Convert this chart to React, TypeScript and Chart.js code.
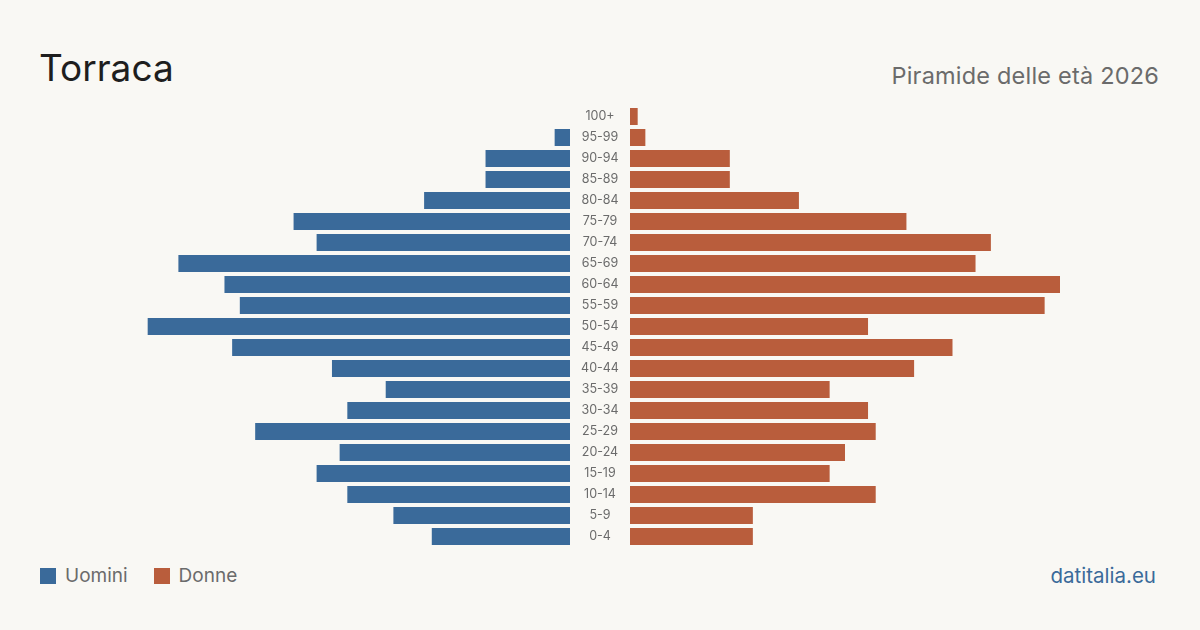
import React, { useEffect, useRef } from "react";
import { Chart, registerables } from "chart.js";

Chart.register(...registerables);

// Age groups, listed from the oldest (top row) down to the youngest
const ageGroups = [
  "100+", "95-99", "90-94", "85-89", "80-84", "75-79", "70-74", "65-69",
  "60-64", "55-59", "50-54", "45-49", "40-44", "35-39", "30-34", "25-29",
  "20-24", "15-19", "10-14", "5-9", "0-4",
];

// Residents per age group
const men = [0, 2, 11, 11, 19, 36, 33, 51, 45, 43, 55, 44, 31, 24, 29, 41, 30, 33, 29, 23, 18];
const women = [1, 2, 13, 13, 22, 36, 47, 45, 56, 54, 31, 42, 37, 26, 31, 32, 28, 26, 32, 16, 16];

const axisMax = Math.max(...men, ...women);

const BG = "#f9f8f4";
const BLUE = "#3a6a9a";
const ORANGE = "#b95d3c";
const GRAY = "#6b6b6b";
const FONT = "Inter, 'Noto Sans', sans-serif";

const CHART_TOP = 106;
const CHART_HEIGHT = 441;
const SIDE_WIDTH = 430;
const LABEL_GAP = 60;

// Age labels drawn in the gap between the two halves, aligned to the category scale
const centerLabels = {
  id: "centerLabels",
  afterDraw(chart: Chart) {
    const { ctx, chartArea, scales } = chart;
    const y = scales.y;
    ctx.save();
    ctx.font = `12.5px ${FONT}`;
    ctx.fillStyle = GRAY;
    ctx.textAlign = "center";
    ctx.textBaseline = "middle";
    ageGroups.forEach((label, i) => {
      ctx.fillText(label, chartArea.left - LABEL_GAP / 2, y.getPixelForValue(i));
    });
    ctx.restore();
  },
};

function makeOptions(reverse: boolean, leftPad: number) {
  return {
    responsive: false,
    animation: false as const,
    devicePixelRatio: 1,
    layout: { padding: { left: leftPad, right: 0, top: 0, bottom: 0 } },
    indexAxis: "y" as const,
    plugins: { legend: { display: false }, tooltip: { enabled: false } },
    scales: {
      x: { display: false, min: 0, max: axisMax, reverse },
      y: { display: false },
    },
  };
}

function Half({ values, color, reverse, withLabels }: { values: number[]; color: string; reverse: boolean; withLabels: boolean }) {
  const ref = useRef<HTMLCanvasElement | null>(null);
  useEffect(() => {
    if (!ref.current) return;
    const chart = new Chart(ref.current, {
      type: "bar",
      data: {
        labels: ageGroups,
        datasets: [
          {
            data: values,
            backgroundColor: color,
            borderWidth: 0,
            inflateAmount: 0,
            barThickness: 17,
          },
        ],
      },
      options: makeOptions(reverse, withLabels ? LABEL_GAP : 0),
      plugins: withLabels ? [centerLabels] : [],
    });
    return () => chart.destroy();
  }, []);
  const width = SIDE_WIDTH + (withLabels ? LABEL_GAP : 0);
  return <canvas ref={ref} width={width} height={CHART_HEIGHT} style={{ width, height: CHART_HEIGHT, display: "block" }} />;
}

export default function App() {
  return (
    <div
      style={{
        position: "fixed",
        left: 0,
        top: 0,
        width: 1200,
        height: 630,
        background: BG,
        fontFamily: FONT,
        overflow: "hidden",
      }}
    >
      <div style={{ position: "absolute", left: 39, top: 44, fontSize: 37, color: "#1e1e1e", lineHeight: "48px" }}>
        Torraca
      </div>
      <div style={{ position: "absolute", right: 41, top: 60, fontSize: 23.5, color: GRAY, lineHeight: "32px", letterSpacing: 0.2 }}>
        Piramide delle età 2026
      </div>

      <div style={{ position: "absolute", left: 600 - LABEL_GAP / 2 - SIDE_WIDTH, top: CHART_TOP }}>
        <Half values={men} color={BLUE} reverse={true} withLabels={false} />
      </div>
      <div style={{ position: "absolute", left: 600 - LABEL_GAP / 2, top: CHART_TOP }}>
        <Half values={women} color={ORANGE} reverse={false} withLabels={true} />
      </div>

      <div style={{ position: "absolute", left: 40, top: 566, display: "flex", alignItems: "center", fontSize: 19, color: GRAY, lineHeight: "20px" }}>
        <span style={{ width: 16, height: 16, background: BLUE, display: "inline-block", marginRight: 9 }} />
        <span style={{ marginRight: 26 }}>Uomini</span>
        <span style={{ width: 16, height: 16, background: ORANGE, display: "inline-block", marginRight: 9 }} />
        <span>Donne</span>
      </div>
      <div style={{ position: "absolute", right: 44, top: 563, fontSize: 20.5, color: BLUE, lineHeight: "26px" }}>
        datitalia.eu
      </div>
    </div>
  );
}
